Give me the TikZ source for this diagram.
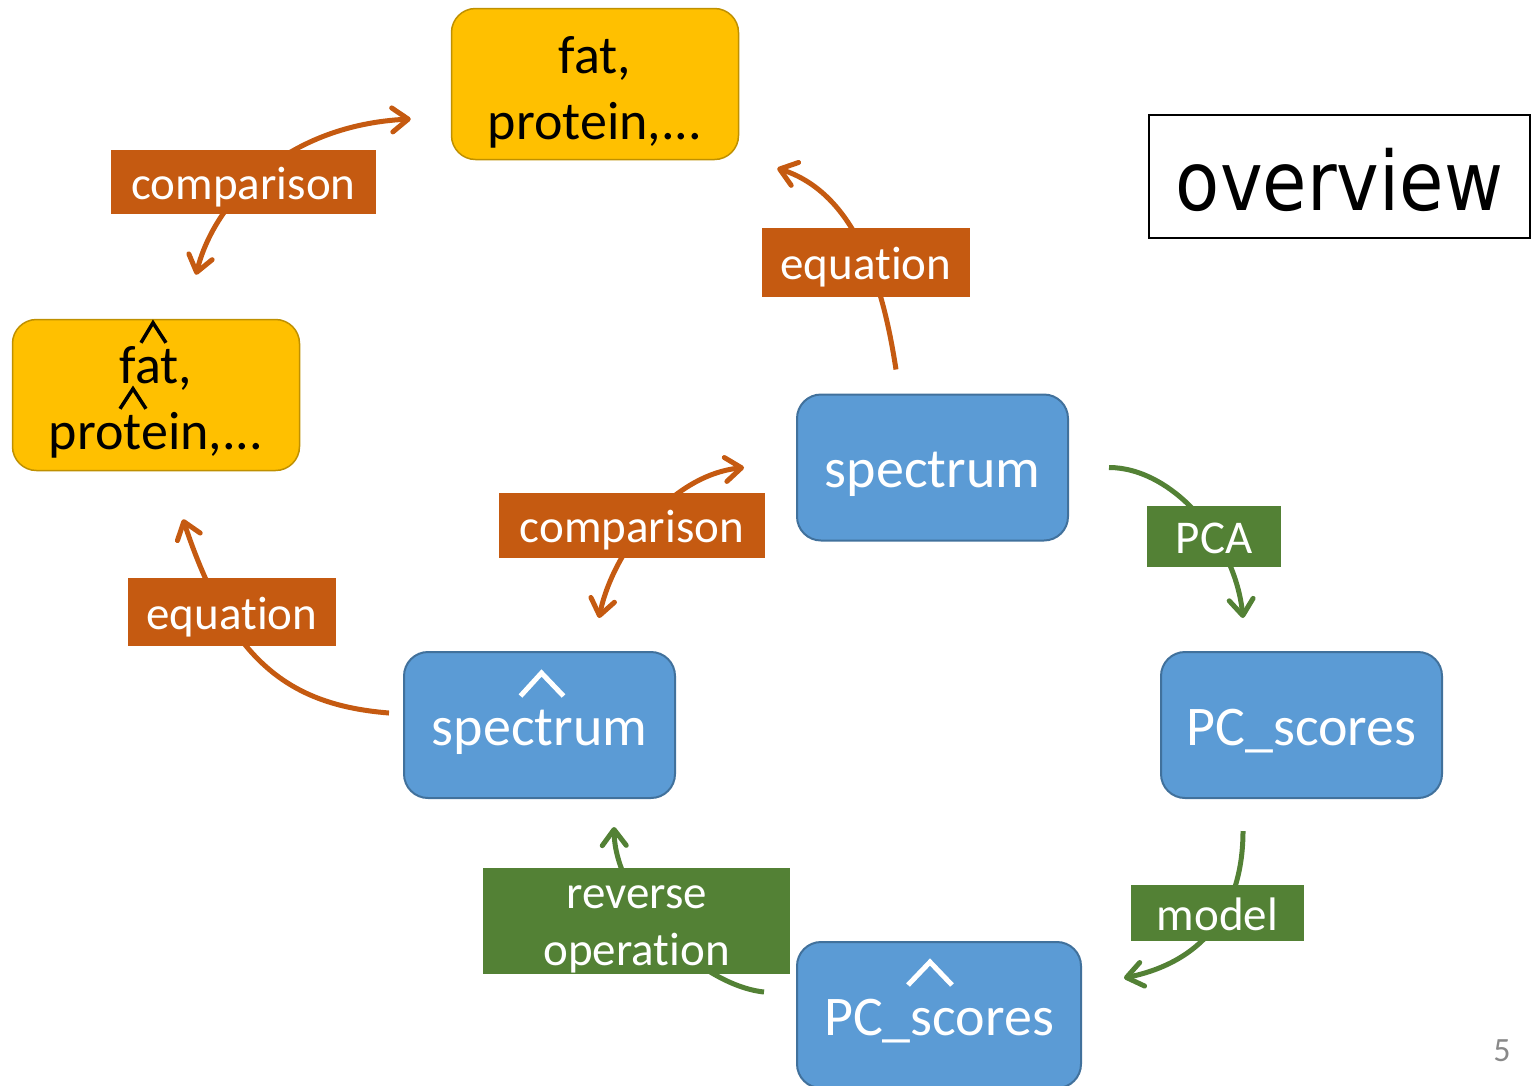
\documentclass[tikz,border=0pt]{standalone}
\usepackage{fontspec}
\setmainfont{Carlito}[Ligatures={NoCommon,NoContextual}]
\newfontfamily\ovfont[FakeStretch=0.88]{DejaVu Sans}
\usetikzlibrary{arrows.meta}

\definecolor{boxblue}{HTML}{5B9BD5}
\definecolor{boxblueline}{HTML}{41719C}
\definecolor{boxyellow}{HTML}{FFC000}
\definecolor{boxyellowline}{HTML}{BF9000}
\definecolor{tagorange}{HTML}{C55A11}
\definecolor{taggreen}{HTML}{538135}
\definecolor{pagegray}{HTML}{898989}

\begin{document}
\begin{tikzpicture}[x=1pt, y=-1pt,
  >={Straight Barb[length=16pt, width=24pt, line cap=round, line join=round]},
  bbox/.style={rectangle, rounded corners=24pt, fill=boxblue, draw=boxblueline, line width=2pt,
    text=white, font=\fontsize{56}{60}\selectfont, inner sep=0pt,
    minimum width=271pt, minimum height=146pt, text height=40pt, text depth=0pt},
  ybox/.style={rectangle, rounded corners=24pt, fill=boxyellow, draw=boxyellowline, line width=1.5pt,
    font=\fontsize{54}{66}\selectfont, align=center, inner sep=0pt,
    minimum width=287pt, minimum height=151pt},
  otag/.style={rectangle, fill=tagorange, text=white, font=\fontsize{47}{57}\selectfont, inner sep=0pt,
    text height=34pt, text depth=0pt},
  gtag/.style={otag, fill=taggreen},
  oarrow/.style={line width=5pt, tagorange},
  garrow/.style={line width=5pt, taggreen},
  hatw/.style={line width=5pt, white},
  hatk/.style={line width=3.5pt, black}
]
  \useasboundingbox (0,0) rectangle (1533,1085);

  % quantities
  \node[ybox] (fat1) at (595,84) {\rule{0pt}{54pt}fat,\\protein,...};
  \node[ybox] (fat2) at (156,395) {\rule{0pt}{52pt}fat,\\protein,...};
  \draw[hatk] ([shift={(-15,24)}]fat2.north) -- ++(12,-20) -- ++(13,20);
  \draw[hatk] ([shift={(-36,90)}]fat2.north) -- ++(13,-20) -- ++(13,20);

  % spectra and scores
  \node[bbox] (spec) at (932.5,467.5) {spectrum};
  \node[bbox] (spechat) at (539.5,725) {spectrum};
  \node[bbox, minimum width=281pt] (pcs) at (1301.5,725) {PC\_scores};
  \node[bbox, minimum width=284pt] (pcshat) at (939,1015) {PC\_scores};
  \draw[hatw] ([shift={(-19,45)}]spechat.north) -- ++(21,-23) -- ++(22,23);
  \draw[hatw] ([shift={(-31,44)}]pcshat.north) -- ++(22,-23) -- ++(22,23);

  % arrows
  \draw[oarrow, <->] ([shift={(40,-44)}]fat2.north) .. controls +(19,-76) and +(-122,6) .. ([shift={(-40,35)}]fat1.west);
  \draw[oarrow, ->] ([shift={(-36.5,-24)}]spec.north) .. controls +(-11,-71) and +(84,27) .. ([shift={(38,8)}]fat1.south east);
  \draw[oarrow, <->] ([shift={(59.5,-33)}]spechat.north) .. controls +(13,-64) and +(-75,8) .. ([shift={(-52,0)}]spec.west);
  \draw[oarrow, ->] ([shift={(-14,-12)}]spechat.west) .. controls +(-100,-8) and +(47,142) .. ([shift={(27,48)}]fat2.south);
  \draw[garrow, ->] ([shift={(40,0)}]spec.east) .. controls +(62,0) and +(-8,-79) .. ([shift={(-58.5,-33)}]pcs.north);
  \draw[garrow, ->] ([shift={(-58.5,32)}]pcs.south) .. controls +(0,70) and +(87,-18) .. ([shift={(42,-37)}]pcshat.east);
  \draw[garrow, ->] ([shift={(-32,-23)}]pcshat.west) .. controls +(-65,-7) and +(1,74) .. ([shift={(74.5,28)}]spechat.south);

  % labels on the arrows
  \node[otag, minimum width=265pt, minimum height=64pt] (cmp1) at (243.5,182) {comparison};
  \node[otag, minimum width=208pt, minimum height=69pt] (eq1) at (866,262.5) {equation};
  \node[otag, minimum width=266pt, minimum height=65pt] (cmp2) at (632,525.5) {comparison};
  \node[otag, minimum width=208pt, minimum height=68pt] (eq2) at (232,612) {equation};
  \node[gtag, minimum width=134pt, minimum height=61pt] (pca) at (1214,536.5) {PCA};
  \node[gtag, minimum width=173pt, minimum height=56pt] (model) at (1217.5,913) {model};
  \node[gtag, align=center, text height=, text depth=, minimum width=307pt, minimum height=106pt] (rev) at (636.5,921) {\rule{0pt}{40pt}reverse\\operation};

  \node[draw, line width=2pt, minimum width=381pt, minimum height=123pt, inner sep=0pt,
    font=\ovfont\fontsize{82}{90}\selectfont, text height=67pt, text depth=0pt] (title) at (1339.5,176.5) {overview};
  \node[text=pagegray, font=\fontsize{34}{40}\selectfont, inner sep=0pt] (page) at (1502,1051) {5};
\end{tikzpicture}
\end{document}
